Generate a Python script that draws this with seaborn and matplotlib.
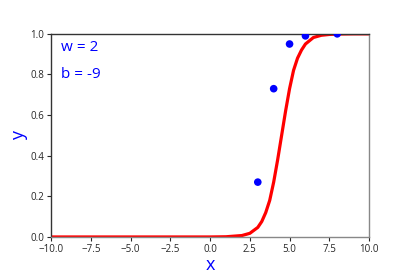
import matplotlib
matplotlib.use("Agg")
import matplotlib.pyplot as plt
import seaborn as sns
import pandas as pd

# scatter data
pts_x = [3, 4, 5, 6, 8]
pts_y = [0.27, 0.73, 0.95, 0.99, 1.0]

# sigmoid curve, values
curve_x = [-10, -5, 0, 1, 2, 2.5, 3, 3.25, 3.5, 3.75, 4, 4.25, 4.5, 4.75, 5, 5.25, 5.5, 5.75, 6, 6.5, 7, 7.5, 8, 9, 10]
curve_y = [0.0, 0.0, 0.0, 0.001, 0.007, 0.018, 0.047, 0.076, 0.12, 0.18, 0.27, 0.38, 0.5, 0.62, 0.73, 0.82, 0.88, 0.92, 0.95, 0.982, 0.993, 0.997, 0.999, 1.0, 1.0]

label_w = "w = 2"
label_b = "b = -9"

sns.set_style("white")
plt.rcParams['font.family'] = ['Open Sans', 'DejaVu Sans']

fig = plt.figure(figsize=(4.10, 2.73), dpi=100)
ax = fig.add_subplot(111)
fig.subplots_adjust(left=0.125, right=0.9, top=0.876, bottom=0.132)

curve = pd.DataFrame({"x": curve_x, "y": curve_y})
pts = pd.DataFrame({"x": pts_x, "y": pts_y})

sns.lineplot(data=curve, x="x", y="y", ax=ax, color="red", linewidth=2.3, zorder=2)
sns.scatterplot(data=pts, x="x", y="y", ax=ax, color="blue", s=30, edgecolor="none", zorder=3)

ax.set_xlim(-10, 10)
ax.set_ylim(0, 1.0)
ax.set_xticks([-10, -7.5, -5, -2.5, 0, 2.5, 5, 7.5, 10])
ax.set_yticks([0, 0.2, 0.4, 0.6, 0.8, 1.0])
ax.tick_params(axis="both", labelsize=7, length=3, width=0.8, direction="out", bottom=True, left=True, pad=2)

ax.set_xlabel("x", color="blue", fontsize=13, labelpad=1)
ax.set_ylabel("y", color="blue", fontsize=13, labelpad=2)

ax.text(0.03, 0.935, label_w, transform=ax.transAxes, color="blue", fontsize=11, va="center", ha="left")
ax.text(0.03, 0.80, label_b, transform=ax.transAxes, color="blue", fontsize=11, va="center", ha="left")

for side in ["left", "top"]:
    ax.spines[side].set_color("#333333")
for side in ["right", "bottom"]:
    ax.spines[side].set_color("#888888")
for s in ax.spines.values():
    s.set_linewidth(1.0)

fig.savefig("out.png", dpi=100)
